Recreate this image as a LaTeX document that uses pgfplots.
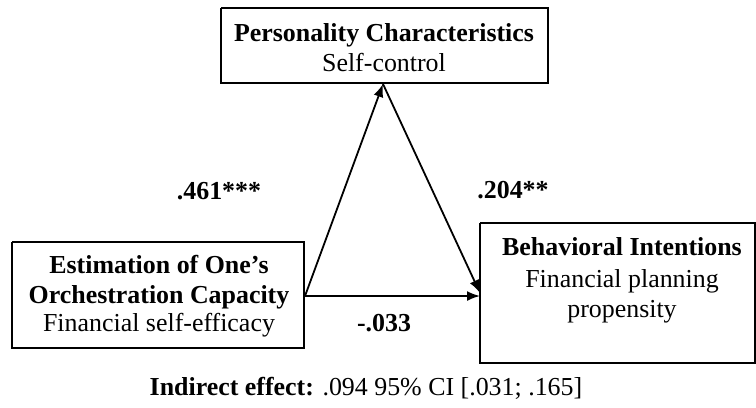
\documentclass[border=0pt]{standalone}
\usepackage{pgfplots}
\pgfplotsset{compat=1.18}
\usepackage{fontspec}
\setmainfont{Liberation Serif}
\usetikzlibrary{arrows.meta}

\begin{document}
\begin{tikzpicture}[lbl/.style={font=\fontsize{26}{30}\selectfont, anchor=base, inner sep=0pt}]
\begin{axis}[
  width=756bp, height=408bp, scale only axis,
  xmin=0, xmax=756, ymin=0, ymax=408,
  y dir=reverse, hide axis, clip=false,
  enlargelimits=false,
]
% frame for the page size
\addplot[draw=none] coordinates {(0,0) (756,408)};
% boxes
\addplot[black, line width=1.8bp] coordinates {(221,8) (548,8) (548,83) (221,83) (221,8)};
\addplot[black, line width=1.8bp] coordinates {(12,242) (304,242) (304,348) (12,348) (12,242)};
\addplot[black, line width=1.8bp] coordinates {(480,223) (755,223) (755,363) (480,363) (480,223)};
% paths
\addplot[black, line width=1.8bp, -{Latex[length=13bp,width=10bp]}] coordinates {(305,296) (383,84)};
\addplot[black, line width=1.8bp, -{Latex[length=13bp,width=10bp]}] coordinates {(383,84) (480,293)};
\addplot[black, line width=1.8bp, -{Latex[length=13bp,width=10bp]}] coordinates {(305,296) (480,296)};
% box text
\node[lbl] at (axis cs:384,41) {\bfseries Personality Characteristics};
\node[lbl] at (axis cs:384,71) {Self-control};
\node[lbl] at (axis cs:159,273) {\bfseries Estimation of One’s};
\node[lbl] at (axis cs:159,303) {\bfseries Orchestration Capacity};
\node[lbl] at (axis cs:159,331) {Financial self-efficacy};
\node[lbl] at (axis cs:622,255) {\bfseries Behavioral Intentions};
\node[lbl] at (axis cs:622,287) {Financial planning};
\node[lbl] at (axis cs:622,317) {propensity};
% coefficients
\node[lbl] at (axis cs:219,199) {\bfseries .461***};
\node[lbl] at (axis cs:513,198) {\bfseries .204**};
\node[lbl] at (axis cs:384,331) {\bfseries -.033};
\node[lbl] at (axis cs:366,395) {\textbf{Indirect effect:} .094 95\% CI [.031; .165]};
\end{axis}
\end{tikzpicture}
\end{document}
